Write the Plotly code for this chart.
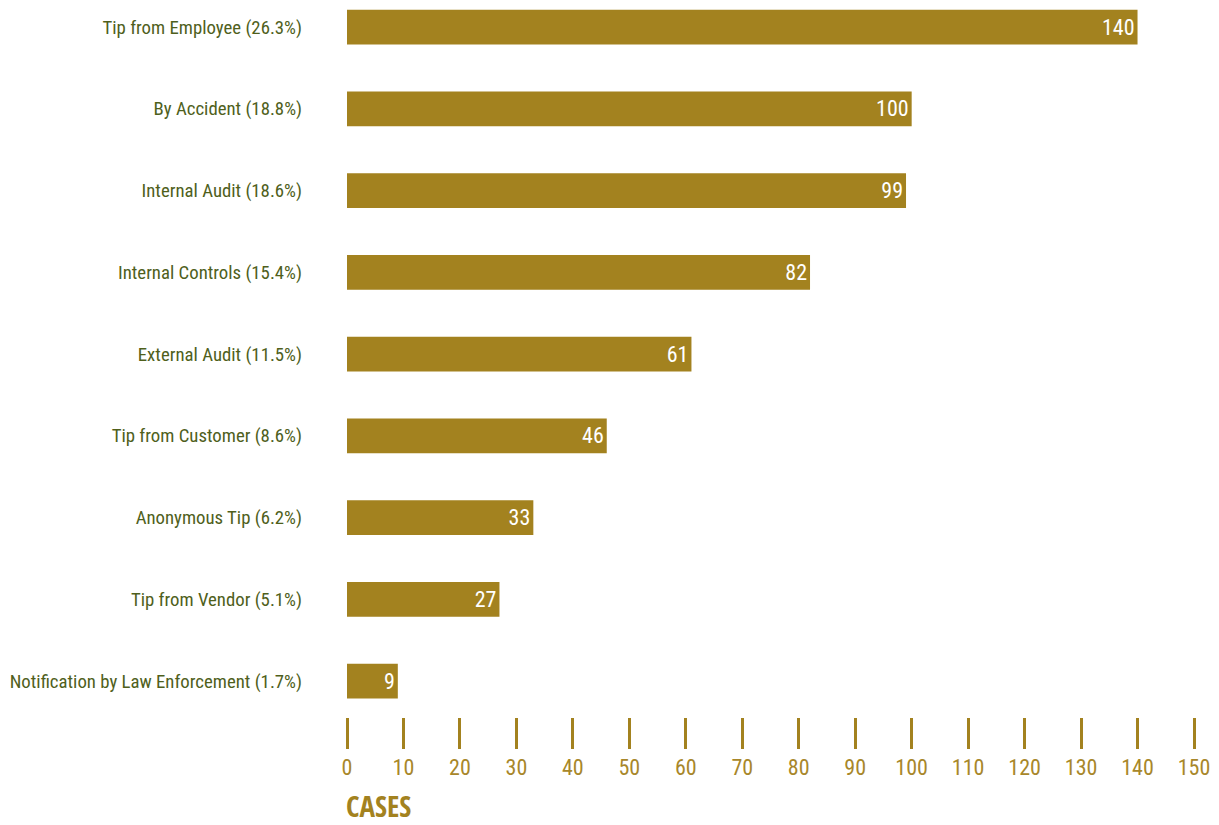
import plotly.graph_objects as go

# Detection methods, listed bottom-to-top as drawn on the y axis
categories = [
    "Notification by Law Enforcement (1.7%)",
    "Tip from Vendor (5.1%)",
    "Anonymous Tip (6.2%)",
    "Tip from Customer (8.6%)",
    "External Audit (11.5%)",
    "Internal Controls (15.4%)",
    "Internal Audit (18.6%)",
    "By Accident (18.8%)",
    "Tip from Employee (26.3%)",
]
cases = [9, 27, 33, 46, 61, 82, 99, 100, 140]
tick_values = list(range(0, 151, 10))

GOLD = "#A3821F"
TICK_GOLD = "#A8872A"
OLIVE = "#4F5F1C"
FONT = "'Roboto Condensed', 'DejaVu Sans Condensed', sans-serif"
BOLD_FONT = "'Open Sans Condensed', 'Roboto Condensed', sans-serif"

fig = go.Figure(
    go.Bar(
        x=cases,
        y=categories,
        orientation="h",
        marker=dict(color=GOLD, line=dict(width=0)),
        width=0.425,
        text=[str(v) for v in cases],
        textposition="inside",
        insidetextanchor="end",
        textfont=dict(color="white", size=22, family=FONT),
        cliponaxis=False,
        hoverinfo="skip",
    )
)

fig.update_layout(
    width=1219,
    height=825,
    margin=dict(l=347, r=25, t=0, b=108),
    paper_bgcolor="white",
    plot_bgcolor="white",
    showlegend=False,
    font=dict(family=FONT),
    uniformtext=dict(minsize=22, mode="show"),
    xaxis=dict(
        range=[0, 150],
        tickvals=tick_values,
        ticks="outside",
        ticklen=31,
        tickwidth=3,
        tickcolor=GOLD,
        showgrid=False,
        zeroline=False,
        showline=False,
        automargin=False,
        tickfont=dict(color=TICK_GOLD, size=22, family=FONT),
    ),
    yaxis=dict(
        range=[-0.44, 8.331],
        showgrid=False,
        zeroline=False,
        showline=False,
        ticks="",
        automargin=False,
        ticklabelstandoff=44,
        tickfont=dict(color=OLIVE, size=18.8, family=FONT),
    ),
    annotations=[
        dict(
            text="<b>CASES</b>",
            x=0,
            xref="x",
            xanchor="left",
            xshift=-3,
            y=0,
            yref="paper",
            yanchor="top",
            yshift=-67,
            showarrow=False,
            font=dict(color=GOLD, size=29, family=BOLD_FONT),
        )
    ],
)

fig.write_html("out.html")
